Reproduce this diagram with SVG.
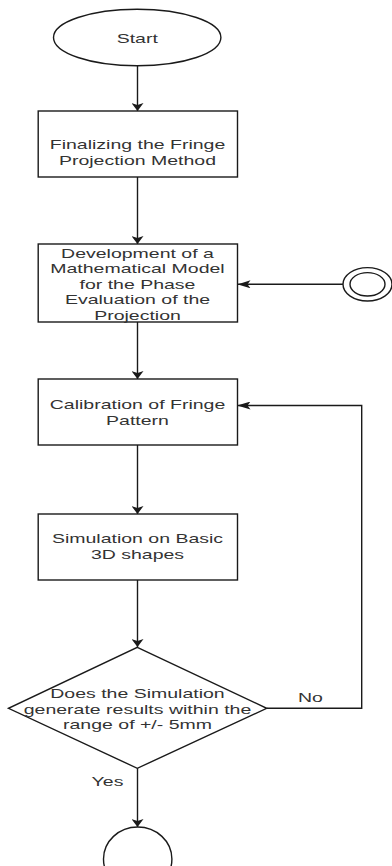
<svg xmlns="http://www.w3.org/2000/svg" width="392" height="866" viewBox="0 0 392 866">
<style>
  .shape { fill: #ffffff; stroke: #1a1a1a; stroke-width: 1.4; }
  .edge { fill: none; stroke: #1a1a1a; stroke-width: 1.4; }
  .lbl { font-family: "Liberation Sans", Arial, sans-serif; font-size: 13px; fill: #333333; text-anchor: middle; }
</style>
<defs>
  <marker id="arrV" markerUnits="userSpaceOnUse" viewBox="0 0 8 12" markerWidth="8" markerHeight="12" refX="8" refY="6" orient="auto">
    <path d="M0,0 L8,6 L0,12 L2,6 z" fill="#1a1a1a"/>
  </marker>
  <marker id="arrH" markerUnits="userSpaceOnUse" viewBox="0 0 13 8" markerWidth="13" markerHeight="8" refX="13" refY="4" orient="auto">
    <path d="M0,0 L13,4 L0,8 L3,4 z" fill="#1a1a1a"/>
  </marker>
</defs>
<rect width="392" height="866" fill="#ffffff"/>

<g id="connectors">
  <line class="edge" x1="137.5" y1="66" x2="137.5" y2="111" marker-end="url(#arrV)"/>
  <line class="edge" x1="137.5" y1="177" x2="137.5" y2="244" marker-end="url(#arrV)"/>
  <line class="edge" x1="137.5" y1="322" x2="137.5" y2="379" marker-end="url(#arrV)"/>
  <line class="edge" x1="137.5" y1="445" x2="137.5" y2="514" marker-end="url(#arrV)"/>
  <line class="edge" x1="137.5" y1="580" x2="137.5" y2="647" marker-end="url(#arrV)"/>
  <line class="edge" x1="137.5" y1="768" x2="137.5" y2="827" marker-end="url(#arrV)"/>
  <path class="edge" d="M266.7,708.3 H361.7 V405.5 H237.5" marker-end="url(#arrH)"/>
  <line class="edge" x1="343" y1="284.3" x2="237.5" y2="284.3" marker-end="url(#arrH)"/>
  <text class="lbl" transform="scale(1.5 1)" x="207" y="701.7">No</text>
  <text class="lbl" transform="scale(1.5 1)" x="71.67" y="785.7">Yes</text>
</g>

<g id="start">
  <ellipse class="shape" cx="137.2" cy="37.5" rx="83.7" ry="28.3"/>
  <text class="lbl" transform="scale(1.5 1)" x="91.5" y="43">Start</text>
</g>

<g id="finalize">
  <rect class="shape" x="38.2" y="111" width="199.3" height="66"/>
  <text class="lbl" transform="scale(1.5 1)" x="91.67" y="149">Finalizing the Fringe</text>
  <text class="lbl" transform="scale(1.5 1)" x="91.67" y="165.3">Projection Method</text>
</g>

<g id="model">
  <rect class="shape" x="38.2" y="244" width="199.3" height="78"/>
  <text class="lbl" transform="scale(1.5 1)" x="91.67" y="258">Development of a</text>
  <text class="lbl" transform="scale(1.5 1)" x="91.67" y="273.5">Mathematical Model</text>
  <text class="lbl" transform="scale(1.5 1)" x="91.67" y="289">for the Phase</text>
  <text class="lbl" transform="scale(1.5 1)" x="91.67" y="304.5">Evaluation of the</text>
  <text class="lbl" transform="scale(1.5 1)" x="91.67" y="320">Projection</text>
</g>

<g id="connector-circle">
  <ellipse class="shape" cx="367.5" cy="284.3" rx="24.5" ry="16.7"/>
  <ellipse class="shape" cx="367.5" cy="284.3" rx="17.5" ry="11.7"/>
</g>

<g id="calibration">
  <rect class="shape" x="38.2" y="379" width="199.3" height="66"/>
  <text class="lbl" transform="scale(1.5 1)" x="91.67" y="409.5">Calibration of Fringe</text>
  <text class="lbl" transform="scale(1.5 1)" x="91.67" y="425.5">Pattern</text>
</g>

<g id="simulation">
  <rect class="shape" x="38.2" y="514" width="199.3" height="66"/>
  <text class="lbl" transform="scale(1.5 1)" x="91.67" y="543.3">Simulation on Basic</text>
  <text class="lbl" transform="scale(1.5 1)" x="91.67" y="559.3">3D shapes</text>
</g>

<g id="decision">
  <polygon class="shape" points="137.3,647.3 266.7,708.3 137.3,768.3 8.5,708.3"/>
  <text class="lbl" transform="scale(1.5 1)" x="91.67" y="698.5">Does the Simulation</text>
  <text class="lbl" transform="scale(1.5 1)" x="91.67" y="714">generate results within the</text>
  <text class="lbl" transform="scale(1.5 1)" x="91.67" y="729.5">range of +/- 5mm</text>
</g>

<g id="end">
  <ellipse class="shape" cx="137.7" cy="859" rx="34.2" ry="32"/>
</g>
</svg>
